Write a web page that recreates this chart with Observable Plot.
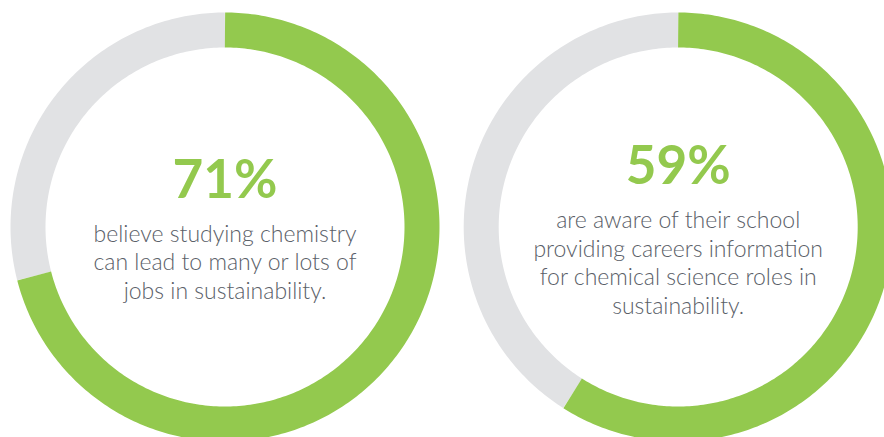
<!DOCTYPE html>
<html>
<head>
<meta charset="utf-8">
<script src="https://cdn.jsdelivr.net/npm/d3@7"></script>
<script src="https://cdn.jsdelivr.net/npm/@observablehq/plot@0.6"></script>
<style>
  html, body { margin: 0; padding: 0; background: #ffffff; }
  #chart svg { display: block; }
</style>
</head>
<body>
<div id="chart"></div>
<script>
// ---- data ----
const labels = ["71%", "59%"];
const shares = [71, 59];
const captions = [
  "believe studying chemistry\ncan lead to many or lots of\njobs in sustainability.",
  "are aware of their school\nproviding careers information\nfor chemical science roles in\nsustainability."
];

// ---- layout (in units of the donut's outer radius) ----
const W = 884, H = 437;
const R = 214.5;                 // outer radius in px
const centersX = [0, 453.2 / R]; // donut centres
const ringMid = 197 / R;         // mid-line radius of the ring
const ringWidth = 35;            // px
const green = "#93c94e", grey = "#e1e2e4", textColor = "#5a6068";

function arcPoints(i, from, to) {
  const pts = [];
  const n = Math.max(2, Math.ceil((to - from) * 4));
  for (let k = 0; k <= n; k++) {
    const a = (from + (to - from) * k / n) / 100 * 2 * Math.PI;
    pts.push({x: centersX[i] + ringMid * Math.sin(a), y: ringMid * Math.cos(a), donut: i});
  }
  return pts;
}

const marks = [];
shares.forEach((v, i) => {
  marks.push(Plot.line(arcPoints(i, v, 100), {x: "x", y: "y", stroke: grey, strokeWidth: ringWidth, strokeLinecap: "butt", curve: "linear"}));
  marks.push(Plot.line(arcPoints(i, 0, v), {x: "x", y: "y", stroke: green, strokeWidth: ringWidth, strokeLinecap: "butt", curve: "linear"}));
});

const bigY = [(226.5 - 198) / R, (226.5 - 184) / R];
const capY = [(226.5 - 241.5) / R, (226.5 - 228) / R];

marks.push(Plot.text(labels, {
  x: (d, i) => centersX[i], y: (d, i) => bigY[i], text: d => d,
  fill: green, fontSize: 53, fontWeight: 700, fontFamily: "Lato", textAnchor: "middle", lineAnchor: "bottom",
  dy: -1
}));
marks.push(Plot.text(captions, {
  x: (d, i) => centersX[i], y: (d, i) => capY[i], text: d => d,
  fill: textColor, fontSize: 23, fontWeight: 300, fontFamily: "Lato", textAnchor: "middle", lineAnchor: "top",
  lineHeight: 28.5 / 23, dy: -20.5
}));

const chart = Plot.plot({
  width: W, height: H,
  margin: 0,
  x: {domain: [-224.5 / R, (W - 224.5) / R], range: [0, W], axis: null},
  y: {domain: [-(H - 226.5) / R, 226.5 / R], range: [H, 0], axis: null},
  style: {background: "#ffffff"},
  marks
});
document.getElementById("chart").appendChild(chart);
</script>
</body>
</html>
